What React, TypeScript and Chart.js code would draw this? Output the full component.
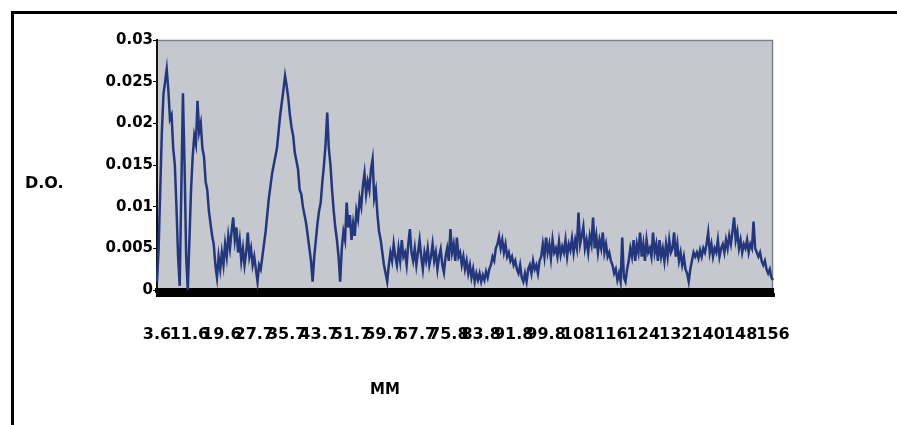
import React, { useEffect, useRef } from "react";
import { Chart, registerables } from "chart.js";

Chart.register(...registerables);

// Tick labels along the MM axis (one every LABEL_EVERY samples)
const xTickLabels = [
  "3.6", "11.6", "19.6", "27.7", "35.7", "43.7", "51.7", "59.7", "67.7", "75.8",
  "83.8", "91.8", "99.8", "108", "116", "124", "132", "140", "148", "156",
];
const LABEL_EVERY = 20;
const yTickLabels = ["0", "0.005", "0.01", "0.015", "0.02", "0.025", "0.03"];
const Y_STEP = 0.005;
const Y_MAX = 0.03;

// D.O. readings, in sample order (segments of 20 samples)
const seg01 = [0.0010, 0.0050, 0.0120, 0.0190, 0.0235, 0.0250, 0.0265, 0.0240, 0.0205, 0.0210, 0.0170, 0.0150, 0.0100, 0.0040, 0.0005, 0.0120, 0.0236, 0.0150, 0.0040, 0.0000];
const seg02 = [0.0060, 0.0120, 0.0160, 0.0185, 0.0175, 0.0227, 0.0190, 0.0200, 0.0170, 0.0160, 0.0130, 0.0120, 0.0095, 0.0080, 0.0065, 0.0055, 0.0030, 0.0015, 0.0040, 0.0025];
const seg03 = [0.0045, 0.0030, 0.0055, 0.0040, 0.0065, 0.0050, 0.0070, 0.0087, 0.0060, 0.0075, 0.0045, 0.0060, 0.0035, 0.0050, 0.0030, 0.0045, 0.0069, 0.0040, 0.0050, 0.0030];
const seg04 = [0.0040, 0.0025, 0.0010, 0.0030, 0.0025, 0.0040, 0.0055, 0.0070, 0.0090, 0.0110, 0.0125, 0.0140, 0.0150, 0.0160, 0.0170, 0.0190, 0.0210, 0.0225, 0.0240, 0.0257];
const seg05 = [0.0245, 0.0230, 0.0210, 0.0195, 0.0185, 0.0165, 0.0155, 0.0145, 0.0120, 0.0115, 0.0100, 0.0090, 0.0080, 0.0065, 0.0050, 0.0035, 0.0010, 0.0040, 0.0060, 0.0080];
const seg06 = [0.0095, 0.0105, 0.0130, 0.0150, 0.0175, 0.0213, 0.0170, 0.0150, 0.0120, 0.0095, 0.0075, 0.0060, 0.0040, 0.0010, 0.0050, 0.0070, 0.0060, 0.0105, 0.0075, 0.0090];
const seg07 = [0.0060, 0.0080, 0.0065, 0.0095, 0.0085, 0.0110, 0.0100, 0.0125, 0.0140, 0.0115, 0.0130, 0.0120, 0.0145, 0.0157, 0.0110, 0.0120, 0.0090, 0.0070, 0.0060, 0.0045];
const seg08 = [0.0030, 0.0020, 0.0010, 0.0030, 0.0045, 0.0035, 0.0055, 0.0040, 0.0030, 0.0050, 0.0035, 0.0060, 0.0040, 0.0045, 0.0030, 0.0055, 0.0073, 0.0045, 0.0035, 0.0050];
const seg09 = [0.0030, 0.0045, 0.0060, 0.0040, 0.0025, 0.0045, 0.0035, 0.0050, 0.0030, 0.0040, 0.0055, 0.0035, 0.0045, 0.0025, 0.0040, 0.0049, 0.0030, 0.0021, 0.0040, 0.0050];
const seg10 = [0.0035, 0.0073, 0.0045, 0.0055, 0.0035, 0.0063, 0.0040, 0.0045, 0.0030, 0.0040, 0.0025, 0.0035, 0.0020, 0.0030, 0.0015, 0.0025, 0.0010, 0.0020, 0.0012, 0.0020];
const seg11 = [0.0010, 0.0018, 0.0012, 0.0022, 0.0015, 0.0025, 0.0030, 0.0040, 0.0035, 0.0050, 0.0055, 0.0064, 0.0050, 0.0060, 0.0045, 0.0055, 0.0040, 0.0045, 0.0035, 0.0040];
const seg12 = [0.0030, 0.0035, 0.0025, 0.0020, 0.0030, 0.0015, 0.0010, 0.0020, 0.0010, 0.0025, 0.0030, 0.0020, 0.0035, 0.0025, 0.0030, 0.0020, 0.0035, 0.0040, 0.0055, 0.0040];
const seg13 = [0.0063, 0.0045, 0.0055, 0.0038, 0.0060, 0.0045, 0.0050, 0.0040, 0.0058, 0.0042, 0.0052, 0.0045, 0.0060, 0.0040, 0.0055, 0.0048, 0.0062, 0.0045, 0.0060, 0.0050];
const seg14 = [0.0093, 0.0055, 0.0065, 0.0076, 0.0050, 0.0060, 0.0045, 0.0065, 0.0055, 0.0087, 0.0050, 0.0065, 0.0045, 0.0060, 0.0050, 0.0069, 0.0045, 0.0055, 0.0040, 0.0045];
const seg15 = [0.0035, 0.0030, 0.0020, 0.0025, 0.0012, 0.0020, 0.0010, 0.0063, 0.0015, 0.0010, 0.0025, 0.0035, 0.0050, 0.0040, 0.0060, 0.0035, 0.0055, 0.0045, 0.0069, 0.0040];
const seg16 = [0.0055, 0.0035, 0.0060, 0.0045, 0.0050, 0.0040, 0.0069, 0.0045, 0.0055, 0.0035, 0.0060, 0.0040, 0.0050, 0.0035, 0.0055, 0.0040, 0.0060, 0.0045, 0.0050, 0.0069];
const seg17 = [0.0040, 0.0055, 0.0035, 0.0045, 0.0030, 0.0040, 0.0025, 0.0020, 0.0010, 0.0025, 0.0035, 0.0045, 0.0040, 0.0045, 0.0038, 0.0048, 0.0040, 0.0050, 0.0045, 0.0055];
const seg18 = [0.0069, 0.0045, 0.0055, 0.0040, 0.0050, 0.0045, 0.0060, 0.0040, 0.0050, 0.0055, 0.0045, 0.0060, 0.0050, 0.0065, 0.0055, 0.0070, 0.0087, 0.0060, 0.0070, 0.0050];
const seg19 = [0.0060, 0.0045, 0.0055, 0.0050, 0.0060, 0.0045, 0.0055, 0.0050, 0.0082, 0.0050, 0.0045, 0.0040, 0.0045, 0.0035, 0.0030, 0.0035, 0.0025, 0.0020, 0.0025, 0.0015, 0.0012];

const doValues = [
  ...seg01, ...seg02, ...seg03, ...seg04, ...seg05, ...seg06, ...seg07, ...seg08, ...seg09, ...seg10,
  ...seg11, ...seg12, ...seg13, ...seg14, ...seg15, ...seg16, ...seg17, ...seg18, ...seg19,
];

const Y_TITLE = "D.O.";
const X_TITLE = "MM";

const PLOT_BG = "#c5c8cf";
const LINE_COLOR = "#24377c";
const FONT_FAMILY = "'DejaVu Sans', 'Liberation Sans', Arial, sans-serif";

const plotBackground = {
  id: "plotBackground",
  beforeDraw(chart: any) {
    const { ctx, chartArea: a } = chart;
    ctx.save();
    ctx.fillStyle = PLOT_BG;
    ctx.fillRect(a.left, a.top, a.right - a.left, a.bottom - a.top);
    ctx.strokeStyle = "#7d8088";
    ctx.lineWidth = 1.5;
    ctx.beginPath();
    ctx.moveTo(a.left, a.top + 0.5);
    ctx.lineTo(a.right - 0.5, a.top + 0.5);
    ctx.lineTo(a.right - 0.5, a.bottom);
    ctx.stroke();
    ctx.restore();
  },
};

const axisTitles = {
  id: "axisTitles",
  afterDraw(chart: any) {
    const { ctx } = chart;
    ctx.save();
    ctx.fillStyle = "#000";
    ctx.textBaseline = "middle";
    ctx.font = `bold 16px ${FONT_FAMILY}`;
    ctx.textAlign = "left";
    ctx.fillText(Y_TITLE, 25, 184);
    ctx.font = `bold 15px ${FONT_FAMILY}`;
    ctx.textAlign = "center";
    ctx.fillText(X_TITLE, 385, 390);
    ctx.restore();
  },
};

export default function App() {
  const canvasRef = useRef<HTMLCanvasElement | null>(null);

  useEffect(() => {
    document.body.style.margin = "0";
    document.body.style.overflow = "hidden";
    const canvas = canvasRef.current;
    if (!canvas) return;
    const chart = new Chart(canvas, {
      type: "line",
      data: {
        labels: doValues.map((_, i) => String(i)),
        datasets: [
          {
            data: doValues,
            borderColor: LINE_COLOR,
            borderWidth: 2.5,
            pointRadius: 0,
            tension: 0,
            fill: false,
          },
        ],
      },
      options: {
        animation: false,
        responsive: false,
        maintainAspectRatio: false,
        layout: { padding: { left: 0, right: 124, top: 40, bottom: 0 } },
        plugins: {
          legend: { display: false },
          tooltip: { enabled: false },
          title: { display: false },
        },
        scales: {
          x: {
            type: "category",
            offset: false,
            grid: {
              display: true,
              drawOnChartArea: false,
              drawTicks: true,
              tickLength: 7,
              tickWidth: 3,
              tickColor: "#000",
              color: "#000",
            },
            border: { display: true, color: "#000", width: 5 },
            ticks: {
              autoSkip: false,
              maxRotation: 0,
              minRotation: 0,
              padding: 28,
              color: "#000",
              font: { family: FONT_FAMILY, weight: "bold", size: 16 },
              callback: (_v: any, i: number) =>
                i % LABEL_EVERY === 0 ? xTickLabels[i / LABEL_EVERY] : "",
            },
            afterFit: (s: any) => {
              s.height = 135;
            },
          },
          y: {
            min: 0,
            max: Y_MAX,
            grid: {
              display: true,
              drawOnChartArea: false,
              drawTicks: true,
              tickLength: 4,
              tickColor: "#000",
            },
            border: { display: true, color: "#111", width: 2 },
            ticks: {
              stepSize: Y_STEP,
              padding: 0,
              color: "#000",
              font: { family: FONT_FAMILY, weight: "bold", size: 15 },
              callback: (v: any) => yTickLabels[Math.round(Number(v) / Y_STEP)],
            },
            afterFit: (s: any) => {
              s.width = 157;
            },
          },
        },
      },
      plugins: [plotBackground, axisTitles],
    });
    return () => chart.destroy();
  }, []);

  return (
    <div style={{ position: "fixed", left: 0, top: 0, width: 897, height: 425, background: "#fff", overflow: "hidden" }}>
      <canvas ref={canvasRef} width={897} height={425} style={{ position: "absolute", left: 0, top: 0, width: 897, height: 425 }} />
      <div
        style={{
          position: "absolute",
          left: 11,
          top: 11,
          width: 886,
          height: 414,
          boxSizing: "border-box",
          borderTop: "3px solid #000",
          borderLeft: "3px solid #000",
          pointerEvents: "none",
        }}
      />
    </div>
  );
}
